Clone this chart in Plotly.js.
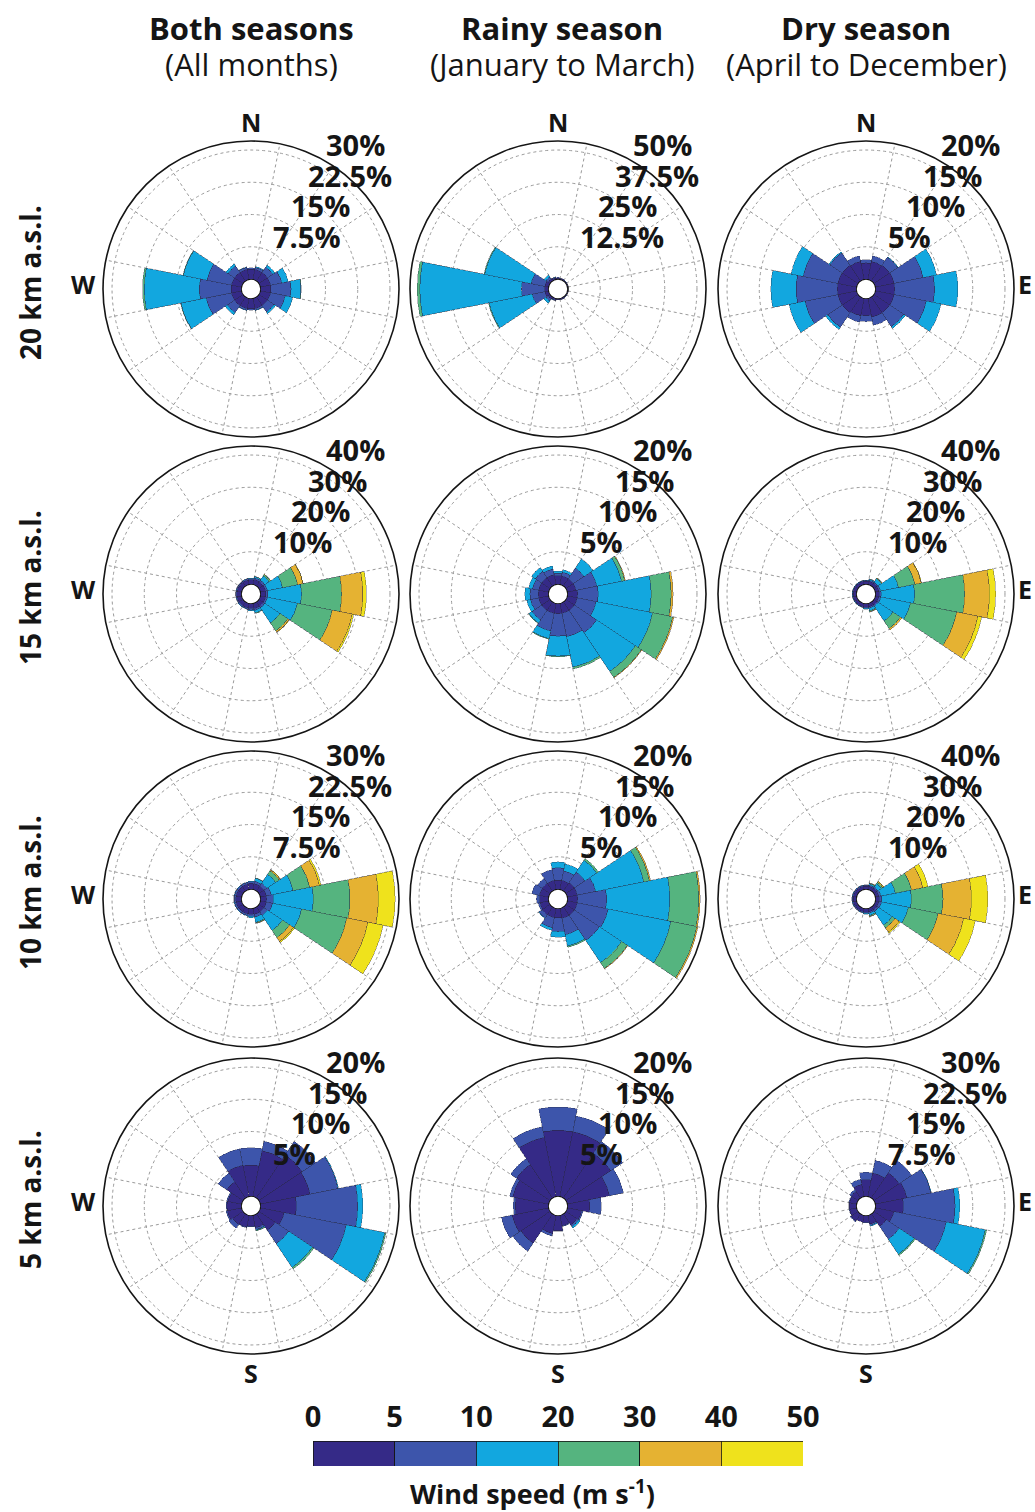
<!DOCTYPE html>
<html><head><meta charset="utf-8">
<script src="https://cdn.plot.ly/plotly-3.0.1.min.js"></script>
<style>html,body{margin:0;padding:0;background:#fff}</style>
</head><body><div id="chart" style="width:1035px;height:1512px"></div>
<script>
// ---------------- DATA ----------------
const directions = ['N','NNE','NE','ENE','E','ESE','SE','SSE','S','SSW','SW','WSW','W','WNW','NW','NNW'];
const directionDeg = [0,22.5,45,67.5,90,112.5,135,157.5,180,202.5,225,247.5,270,292.5,315,337.5];
const speedEdges = ['0','5','10','20','30','40','50'];
const speedBins = ['0-5','5-10','10-20','20-30','30-40','40-50'];
const speedColors = ['#352a87','#3d55ab','#12a7df','#55b47f','#e5b232','#efe21c'];
const columnTitles = ['Both seasons','Rainy season','Dry season'];
const columnSubtitles = ['(All months)','(January to March)','(April to December)'];
const rowLabels = ['20 km a.s.l.','15 km a.s.l.','10 km a.s.l.','5 km a.s.l.'];
const ringMax = [[30,50,20],[40,20,40],[30,20,40],[20,20,30]];

// frequency (%) per direction (rows, order of `directions`) and speed bin (columns, order of `speedBins`)
const rose20Both = [
 [2.3,0.3,0,0,0,0],[2.3,0.5,0.2,0,0,0],[2.3,1.5,0.6,0,0,0],[2.3,2.7,1.5,0,0,0],
 [2.3,4.7,2.3,0.1,0,0],[2.3,3.5,1.8,0,0,0],[2.3,1.8,0.5,0,0,0],[2.3,0.4,0.1,0,0,0],
 [2.3,0.3,0,0,0,0],[2.3,0.4,0.1,0,0,0],[2.3,2.0,0.6,0,0,0],[2.3,6.0,6.0,0.1,0,0],
 [2.3,7.4,12.8,0.4,0,0],[2.3,5.8,5.6,0.1,0,0],[2.3,1.8,0.6,0,0,0],[2.3,0.5,0.1,0,0,0]];
const rose20Rainy = [
 [0.4,0.2,0,0,0,0],[0.3,0.1,0,0,0,0],[0.2,0.1,0,0,0,0],[0.2,0,0,0,0,0],
 [0.2,0,0,0,0,0],[0.2,0,0,0,0,0],[0.2,0.1,0,0,0,0],[0.3,0.1,0,0,0,0],
 [0.3,0.1,0,0,0,0],[0.4,0.3,0.1,0,0,0],[0.8,1.0,1.0,0,0,0],[1.3,5.0,17.0,0.3,0,0],
 [1.3,9.0,39.4,1.0,0,0],[1.3,5.5,18.3,0.3,0,0],[0.8,1.0,0.9,0,0,0],[0.5,0.3,0.1,0,0,0]];
const rose20Dry = [
 [2.5,0.5,0,0,0,0],[2.8,0.9,0,0,0,0],[2.9,1.5,0.1,0,0,0],[2.9,4.6,2.1,0,0,0],
 [2.9,6.2,3.6,0,0,0],[2.9,5.1,2.3,0,0,0],[2.9,2.6,0.3,0,0,0],[2.9,1.3,0,0,0,0],
 [2.6,0.9,0,0,0,0],[2.7,1.0,0,0,0,0],[2.9,2.7,0.4,0,0,0],[2.9,5.2,2.5,0,0,0],
 [2.9,6.4,3.9,0,0,0],[2.9,5.5,1.9,0,0,0],[2.9,2.3,0.2,0,0,0],[2.8,0.9,0,0,0,0]];
const rose15Both = [
 [1.3,0.4,0.1,0,0,0],[1.5,0.5,0.4,0.1,0,0],[1.5,0.6,1.6,0.5,0.1,0],[1.5,0.6,4.8,4.8,1.7,0.1],
 [1.5,0.6,10.5,12.4,6.6,1.1],[1.5,0.6,9.5,11.0,6.3,0.5],[1.5,0.6,5.6,3.0,0.5,0.1],[1.5,0.6,0.8,0.2,0,0],
 [1.4,0.5,0.2,0,0,0],[1.3,0.4,0.1,0,0,0],[1.3,0.4,0.1,0,0,0],[1.3,0.3,0.1,0,0,0],
 [1.3,0.3,0.1,0,0,0],[1.3,0.3,0.1,0,0,0],[1.3,0.3,0.1,0,0,0],[1.3,0.4,0.1,0,0,0]];
const rose15Rainy = [
 [1.3,0.4,0.3,0,0,0],[1.3,0.6,0.4,0,0,0],[1.3,2.0,1.7,0,0,0],[1.3,3.3,3.9,0.5,0.1,0],
 [1.5,3.2,8.2,3.1,0.3,0],[1.5,3.0,8.9,3.2,0.2,0],[1.5,4.2,7.2,1.1,0.1,0],[1.5,3.7,4.8,0.3,0,0],
 [1.5,3.5,3.1,0.1,0,0],[1.5,2.8,1.2,0.1,0,0],[1.5,1.8,0.6,0.1,0,0],[1.5,1.3,0.6,0,0,0],
 [1.5,1.3,0.8,0,0,0],[1.5,1.0,0.6,0,0,0],[1.5,1.2,0.7,0,0,0],[1.5,0.9,0.5,0,0,0]];
const rose15Dry = [
 [0.9,0.2,0.1,0,0,0],[1.0,0.3,0.3,0.1,0,0],[1.0,0.4,1.2,0.3,0.1,0],[1.0,0.5,5.7,5.2,2.0,0.1],
 [1.0,0.6,10.4,15.5,7.7,1.9],[1.0,0.6,9.4,14.6,6.7,1.2],[1.0,0.5,5.5,2.8,0.5,0],[1.0,0.4,0.8,0.3,0.1,0],
 [1.0,0.3,0.3,0,0,0],[0.9,0.2,0.1,0,0,0],[0.9,0.2,0.1,0,0,0],[0.9,0.2,0.1,0,0,0],
 [0.9,0.2,0.1,0,0,0],[0.9,0.2,0.1,0,0,0],[0.9,0.2,0.1,0,0,0],[0.9,0.2,0.1,0,0,0]];
const rose10Both = [
 [1.3,0.4,0.1,0,0,0],[1.3,0.6,0.7,0.1,0,0],[1.3,0.8,2.5,1.0,0.3,0.1],[1.3,1.2,5.2,3.9,2.3,0.4],
 [1.3,1.6,9.3,8.5,6.6,3.9],[1.3,1.5,6.9,10.7,5.0,3.6],[1.3,1.0,4.2,2.0,1.1,0.3],[1.3,0.7,1.2,0.2,0.1,0],
 [1.2,0.5,0.3,0,0,0],[1.2,0.4,0.1,0,0,0],[1.2,0.4,0.1,0,0,0],[1.2,0.4,0.1,0,0,0],
 [1.2,0.4,0.1,0,0,0],[1.2,0.4,0.1,0,0,0],[1.2,0.4,0.1,0,0,0],[1.2,0.4,0.1,0,0,0]];
const rose10Rainy = [
 [1.4,1.9,0.9,0,0,0],[1.4,1.5,1.1,0,0,0],[1.5,2.0,2.2,0.3,0,0],[1.5,2.9,7.6,0.9,0.2,0],
 [1.5,4.5,9.8,4.5,0.2,0],[1.5,4.9,9.9,4.1,0.2,0],[1.5,4.7,4.1,1.1,0.1,0],[1.5,2.6,1.8,0.2,0,0],
 [1.4,2.1,0.9,0,0,0],[1.4,1.6,0.4,0,0,0],[1.4,0.6,0.1,0,0,0],[1.3,0.3,0,0,0,0],
 [1.3,0.5,0,0,0,0],[1.4,1.2,0,0,0,0],[1.4,0.9,0,0,0,0],[1.4,1.7,0,0,0,0]];
const rose10Dry = [
 [0.9,0.3,0.1,0,0,0],[1.0,0.3,0.4,0.2,0.1,0],[1.0,0.5,1.2,0.5,0.3,0.1],[1.0,0.6,4.6,5.1,3.6,1.6],
 [1.0,0.8,9.2,9.8,8.8,5.1],[1.0,0.8,8.5,9.4,8.1,3.7],[1.0,0.6,5.1,1.0,1.6,0.4],[1.0,0.4,0.7,0.3,0.1,0],
 [1.0,0.4,0.2,0,0,0],[0.9,0.3,0.1,0,0,0],[0.9,0.3,0.1,0,0,0],[0.9,0.3,0.1,0,0,0],
 [0.9,0.3,0.1,0,0,0],[0.9,0.3,0.1,0,0,0],[0.9,0.3,0.1,0,0,0],[0.9,0.3,0.1,0,0,0]];
const rose5Both = [
 [4.8,2.7,0,0,0,0],[7.2,1.5,0,0,0,0],[8.0,2.5,0,0,0,0],[7.8,4.4,0.1,0,0,0],
 [5.5,9.5,0.8,0,0,0],[3.7,9.8,6.1,0.2,0,0],[3.0,2.5,4.4,0.3,0,0],[1.9,0.3,0.1,0.1,0,0],
 [1.6,0.1,0,0,0,0],[1.8,0.1,0,0,0,0],[1.9,0.7,0,0,0,0],[2.2,0.2,0,0,0,0],
 [2.2,0.1,0,0,0,0],[2.1,0.2,0,0,0,0],[3.0,1.6,0,0,0,0],[4.9,2.6,0,0,0,0]];
const rose5Rainy = [
 [10.2,3.6,0,0,0,0],[10.2,2.5,0,0,0,0],[8.3,2.2,0,0,0,0],[6.6,2.2,0,0,0,0],
 [3.4,1.8,0,0,0,0],[2.2,0.2,0,0,0,0],[2.0,0.3,0.3,0,0,0],[1.6,0.1,0,0,0,0],
 [2.3,0.1,0,0,0,0],[2.8,0.4,0,0,0,0],[5.4,1.5,0,0,0,0],[5.7,1.7,0,0,0,0],
 [5.1,0.3,0,0,0,0],[5.6,0.5,0,0,0,0],[6.2,1.1,0,0,0,0],[9.3,1.7,0,0,0,0]];
const rose5Dry = [
 [3.8,1.7,0,0,0,0],[5.5,3.0,0,0,0,0],[7.0,3.5,0,0,0,0],[7.4,5.7,0.1,0,0,0],
 [6.4,12.0,1.1,0,0,0],[4.3,12.4,9.3,0.3,0,0],[3.4,3.6,4.2,0.3,0,0],[2.0,0.3,0.2,0,0,0],
 [1.5,0.1,0,0,0,0],[1.5,0,0,0,0,0],[1.9,0.2,0,0,0,0],[1.6,0.1,0,0,0,0],
 [1.6,0.1,0,0,0,0],[1.6,0.2,0,0,0,0],[1.8,0.5,0,0,0,0],[2.8,1.2,0,0,0,0]];

const panels = [
 [rose20Both, rose20Rainy, rose20Dry],
 [rose15Both, rose15Rainy, rose15Dry],
 [rose10Both, rose10Rainy, rose10Dry],
 [rose5Both, rose5Rainy, rose5Dry]];

// ---------------- LAYOUT ----------------
const W = 1035, H = 1512, R = 148, HOLE = 10, PAD = 1.07;
const colX = [251, 558, 866], rowY = [289, 594, 899, 1206];
const FONT = '"Open Sans", "Noto Sans", sans-serif';
const INK = '#151515';
const GRID = '#9a9a9a';

const fmt = v => (Math.round(v * 10) / 10).toString() + '%';
const ann = (text, px, py, font, extra) => Object.assign({
  text, x: px / W, y: 1 - py / H, xref: 'paper', yref: 'paper', xanchor: 'center', yanchor: 'middle',
  showarrow: false, font}, extra || {});

const traces = [];
const layout = {
  width: W, height: H, margin: {l: 0, r: 0, t: 0, b: 0},
  paper_bgcolor: '#fff', plot_bgcolor: '#fff', showlegend: false,
  font: {family: FONT, color: INK},
  barmode: 'stack', annotations: []
};
const ringFont = {family: FONT, size: 29, color: INK, weight: 700};
const RAD = Math.PI / 180;

let idx = 0;
for (let r = 0; r < 4; r++) {
  for (let c = 0; c < 3; c++) {
    idx++;
    const key = idx === 1 ? 'polar' : 'polar' + idx;
    const data = panels[r][c];
    const m = ringMax[r][c];
    const ringVals = [m / 4, m / 2, 3 * m / 4, m];
    for (let k = 0; k < speedBins.length; k++) {
      traces.push({
        type: 'barpolar', subplot: key,
        theta: directionDeg, r: data.map(d => d[k]),
        name: speedBins[k] + ' m/s',
        marker: {color: speedColors[k], line: {color: 'rgba(40,40,60,0.55)', width: 0.6}},
        hoverinfo: 'skip'
      });
    }
    const cx = colX[c], cy = rowY[r];
    layout[key] = {
      domain: {x: [(cx - R) / W, (cx + R) / W], y: [1 - (cy + R) / H, 1 - (cy - R) / H]},
      hole: HOLE / R, bargap: 0, bgcolor: '#fff',
      angularaxis: {
        rotation: 90, direction: 'clockwise', tickmode: 'linear', tick0: 11.25, dtick: 22.5,
        showticklabels: false, ticks: '', showgrid: true, gridcolor: GRID, griddash: 'dot', gridwidth: 1,
        showline: true, linecolor: INK, linewidth: 1.6, layer: 'below traces'
      },
      radialaxis: {
        range: [0, m * PAD], tickmode: 'array', tickvals: ringVals,
        angle: 60, showticklabels: false, showline: false, ticks: '',
        showgrid: true, gridcolor: GRID, griddash: 'dot', gridwidth: 1, layer: 'below traces'
      }
    };
    // ring labels, placed along the 60 degree line just outside each ring
    ringVals.forEach(v => {
      const rp = (HOLE + (R - HOLE) * v / (m * PAD)) * 1.09;
      const px = cx + rp * Math.cos(60 * RAD) - 3;
      const py = cy - rp * Math.sin(60 * RAD) - 13;
      layout.annotations.push(ann(fmt(v), px, py, ringFont, {xanchor: 'left', height: 27, valign: 'middle'}));
    });
  }
}

// compass labels on the outer edges
const compassFont = {family: FONT, size: 25, color: INK, weight: 700};
for (let c = 0; c < 3; c++) {
  layout.annotations.push(ann('N', colX[c], rowY[0] - 167, compassFont));
  layout.annotations.push(ann('S', colX[c], rowY[3] + 167, compassFont));
}
for (let r = 0; r < 4; r++) {
  layout.annotations.push(ann('W', colX[0] - 168, rowY[r] - 5, compassFont));
  layout.annotations.push(ann('E', colX[2] + 159, rowY[r] - 5, compassFont));
  layout.annotations.push(ann('<b>' + rowLabels[r] + '</b>', 30, rowY[r] - 6, {family: FONT, size: 28, color: INK}, {textangle: -90}));
}
const titleX = [251, 562, 866];
for (let c = 0; c < 3; c++) {
  layout.annotations.push(ann('<b>' + columnTitles[c] + '</b>', titleX[c], 28, {family: FONT, size: 31, color: INK}));
  layout.annotations.push(ann(columnSubtitles[c], titleX[c], 64, {family: FONT, size: 31, color: INK}));
}

// colour bar (stacked horizontal bars on a cartesian axis)
for (let k = 0; k < speedBins.length; k++) {
  traces.push({
    type: 'bar', orientation: 'h', x: [1], y: [0], width: 1, xaxis: 'x', yaxis: 'y',
    marker: {color: speedColors[k], line: {color: INK, width: 0.8}}, name: speedBins[k], hoverinfo: 'skip'
  });
}
layout.xaxis = {
  domain: [313 / W, 803 / W], range: [0, speedBins.length], side: 'top', tickmode: 'array',
  tickvals: speedEdges.map((_, i) => i), ticktext: speedEdges, showgrid: false, zeroline: false,
  ticks: 'outside', ticklen: 1, tickcolor: 'rgba(0,0,0,0)', showline: false,
  tickfont: {family: FONT, size: 29, color: INK, weight: 700}, fixedrange: true
};
layout.yaxis = {domain: [1 - 1466 / H, 1 - 1441 / H], range: [-0.5, 0.5], visible: false, fixedrange: true};
layout.annotations.push(ann('<b>Wind speed (m s<sup>-1</sup>)</b>', 532, 1492, {family: FONT, size: 27, color: INK}));

Plotly.newPlot('chart', traces, layout, {staticPlot: true, displayModeBar: false});
</script></body></html>
